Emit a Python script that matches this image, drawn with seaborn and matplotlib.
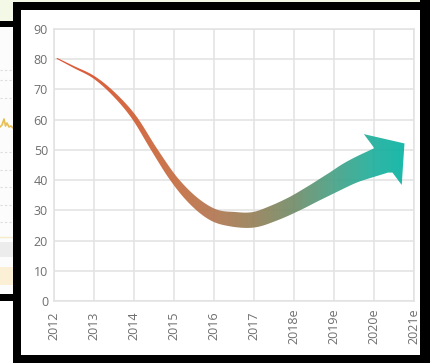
import numpy as np
import pandas as pd
import matplotlib
matplotlib.use("Agg")
import matplotlib.pyplot as plt
import seaborn as sns
from matplotlib.patches import Polygon, Rectangle
from matplotlib.lines import Line2D
from matplotlib.colors import LinearSegmentedColormap

# ---- axis labels -------------------------------------------------------
year_positions = [2012, 2013, 2014, 2015, 2016, 2017, 2018, 2019, 2020, 2021]
year_labels = ["2012", "2013", "2014", "2015", "2016", "2017",
               "2018e", "2019e", "2020e", "2021e"]
value_ticks = [0, 10, 20, 30, 40, 50, 60, 70, 80, 90]

# ---- trend: centre of the ribbon ---------------------------------------
trend_year = [2012.07, 2012.5, 2013, 2013.5, 2014, 2014.5, 2015, 2015.5,
              2016, 2016.5, 2017, 2017.5, 2018, 2018.5, 2019, 2019.5, 2020.22]
trend_value = [80.3, 77.4, 74.0, 68.4, 60.8, 50.2, 40.3, 33.0,
               28.4, 27.0, 26.9, 29.1, 32.1, 35.7, 39.4, 43.0, 46.8]

# ribbon thickness (pixels) at each trend point
ribbon_px = [1.0, 1.8, 2.6, 3.8, 5.0, 5.8, 7.3, 9.8,
             12.5, 15.0, 15.5, 16.0, 16.5, 18.0, 20.5, 23.5, 28.0]

# colour ramp along the x axis (year -> colour)
ramp_year = [2012, 2014, 2015, 2016, 2017, 2018, 2019, 2020, 2021]
ramp_color = ["#dc4826", "#d05e34", "#c66c40", "#b27650", "#958058",
              "#718c68", "#47a186", "#1eaf9c", "#00b5a6"]

# arrow head geometry (pixels / degrees)
HEAD_HALF = 31.7
HEAD_LEN = 27.0
NOTCH_HALF = 16.2
HEAD_TURN = 15.0

W, H = 430, 363
sns.set_theme(style="whitegrid")
plt.rcParams["font.family"] = ["Open Sans", "DejaVu Sans"]

fig = plt.figure(figsize=(W / 100, H / 100), dpi=100)
fig.patch.set_facecolor("white")
ax = fig.add_axes([54 / W, (H - 301) / H, 360 / W, 272 / H])
ax.set_facecolor("white")

trend = pd.DataFrame({"year": trend_year, "value": trend_value})
sns.lineplot(data=trend, x="year", y="value", ax=ax, lw=0, color="#dc4826")

ax.set_xlim(2012, 2021)
ax.set_ylim(0, 90)
ax.set_xticks(year_positions)
ax.set_xticklabels(year_labels, rotation=90, va="center", ha="center")
ax.set_yticks(value_ticks)
ax.set_xlabel("")
ax.set_ylabel("")
label_color = "#6e6e6e"
ax.tick_params(axis="x", length=0, pad=18, labelsize=9, labelcolor=label_color)
ax.tick_params(axis="y", length=0, pad=4.3, labelsize=9, labelcolor=label_color)
grid_color = "#e2e2e2"
ax.grid(True, color=grid_color, lw=1.1)
for s in ax.spines.values():
    s.set_color(grid_color)
    s.set_linewidth(1.1)


# ---- ribbon geometry (built in display space) --------------------------
def catmull_rom(pts, widths, n=24):
    ext = np.vstack([2 * pts[0] - pts[1], pts, 2 * pts[-1] - pts[-2]])
    out, wout = [], []
    t = np.linspace(0, 1, n, endpoint=False)[:, None]
    for i in range(len(pts) - 1):
        p0, p1, p2, p3 = ext[i:i + 4]
        c = 0.5 * (2 * p1 + (-p0 + p2) * t
                   + (2 * p0 - 5 * p1 + 4 * p2 - p3) * t ** 2
                   + (-p0 + 3 * p1 - 3 * p2 + p3) * t ** 3)
        out.append(c)
        wout.append(widths[i] + (widths[i + 1] - widths[i]) * t[:, 0])
    out.append(pts[-1:])
    wout.append(np.array([widths[-1]]))
    return np.vstack(out), np.concatenate(wout)


pts = ax.transData.transform(np.column_stack([trend_year, trend_value]))
centre, width = catmull_rom(pts, np.asarray(ribbon_px, float))
tang = np.gradient(centre, axis=0)
tang /= np.linalg.norm(tang, axis=1)[:, None]
norm = np.column_stack([-tang[:, 1], tang[:, 0]])
upper = centre + norm * width[:, None] / 2
lower = centre - norm * width[:, None] / 2

end = centre[-1]
a = np.radians(HEAD_TURN)
d = tang[-1]
d_head = np.array([d[0] * np.cos(a) - d[1] * np.sin(a),
                   d[0] * np.sin(a) + d[1] * np.cos(a)])
n_head = np.array([-d_head[1], d_head[0]])

upper = upper[(upper - end) @ d_head <= 0]
lower = lower[(lower - end) @ d_head <= 0]

head = np.array([
    end + n_head * NOTCH_HALF,
    end + n_head * HEAD_HALF,
    end + d_head * HEAD_LEN,
    end - n_head * HEAD_HALF,
    end - n_head * NOTCH_HALF,
])
outline = np.vstack([upper, head, lower[::-1]])
outline_data = ax.transData.inverted().transform(outline)

shape = Polygon(outline_data, closed=True, transform=ax.transData,
                facecolor="none", edgecolor="none")
ax.add_patch(shape)

stops = [(y - ramp_year[0]) / (ramp_year[-1] - ramp_year[0]) for y in ramp_year]
cmap = LinearSegmentedColormap.from_list("trend", list(zip(stops, ramp_color)))
gradient = np.linspace(0, 1, 512)[None, :]
im = ax.imshow(gradient, extent=[2012, 2021, 0, 90], cmap=cmap, aspect="auto",
               origin="lower", interpolation="bilinear", alpha=0.92, zorder=3)
im.set_clip_path(shape)
ax.set_xlim(2012, 2021)
ax.set_ylim(0, 90)


# ---- surrounding frame ---------------------------------------------------
def px_rect(x0, y0, x1, y1, color, z=1):
    fig.add_artist(Rectangle((x0 / W, 1 - y1 / H), (x1 - x0) / W, (y1 - y0) / H,
                             transform=fig.transFigure, facecolor=color,
                             edgecolor="none", zorder=z))


def px_line(xs, ys, color, lw=1.0, ls="-"):
    fig.add_artist(Line2D([x / W for x in xs], [1 - y / H for y in ys],
                          transform=fig.transFigure, color=color, lw=lw, ls=ls))


# neighbouring panel on the left
px_rect(0, 0, 420, 2.5, "#f4f8e6")
px_rect(0, 0, 13, 21, "#f4f8e6")
px_rect(0, 27, 13, 294, "#fcfcfc")
for yy in [70, 80, 98, 152, 170, 187, 205, 222]:
    px_line([0, 13], [yy, yy], "#dddddd", lw=0.8, ls=(0, (2, 2)))
px_line([0, 2, 4, 5.5, 7, 9, 11, 13], [127, 125, 119, 126, 123, 127, 126, 128],
        "#e7bf55", lw=1.2)
px_line([0, 13], [237, 237], "#f6ebc9", lw=1.0)
px_rect(0, 242, 13, 257, "#ececec")
px_rect(0, 267, 13, 285, "#fbf0d6")

# black frame
px_rect(0, 21, 13, 27, "black", z=2)
px_rect(0, 294, 13, 301, "black", z=2)
px_rect(13, 2.5, 21, H, "black", z=2)
px_rect(13, 2.5, W, 10, "black", z=2)
px_rect(420, 0, W, H, "black", z=2)
px_rect(13, 355, W, H, "black", z=2)

fig.savefig("out.png", dpi=100)
